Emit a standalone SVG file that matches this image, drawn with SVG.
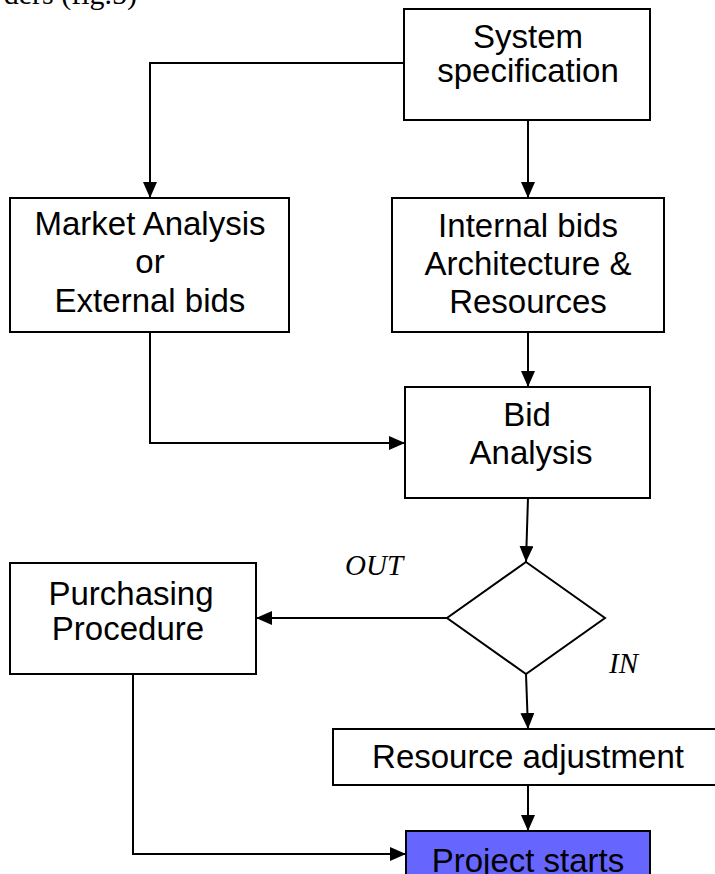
<svg xmlns="http://www.w3.org/2000/svg" width="715" height="874" viewBox="0 0 715 874">
<style>
.box{fill:#fff;stroke:#000;stroke-width:2}
.t{font-family:"Liberation Sans",Arial,sans-serif;font-size:33px;fill:#000;text-anchor:middle}
.lbl{font-family:"Liberation Serif","Times New Roman",serif;font-style:italic;font-size:29px;fill:#000}
.c{fill:none;stroke:#000;stroke-width:2}
</style>
<defs>
<marker id="arr" markerUnits="userSpaceOnUse" markerWidth="16" markerHeight="14" refX="16" refY="7" orient="auto">
<path d="M0,0 L16,7 L0,14 z" fill="#000"/>
</marker>
</defs>
<rect width="715" height="874" fill="#fff"/>
<text x="137" y="4" font-family="Liberation Serif, Times New Roman, serif" font-size="30" text-anchor="end">ders (fig.5)</text>

<g id="connectors">
<path class="c" d="M404,63 H150 V198" marker-end="url(#arr)"/>
<path class="c" d="M528,120 V198" marker-end="url(#arr)"/>
<path class="c" d="M528,332 V387" marker-end="url(#arr)"/>
<path class="c" d="M150,332 V443 H405" marker-end="url(#arr)"/>
<path class="c" d="M528,498 L526,562" marker-end="url(#arr)"/>
<path class="c" d="M447,618 H256" marker-end="url(#arr)"/>
<path class="c" d="M526,674 L528,729" marker-end="url(#arr)"/>
<path class="c" d="M528,785 V831" marker-end="url(#arr)"/>
<path class="c" d="M133,674 V854 H406" marker-end="url(#arr)"/>
</g>

<g id="spec">
<rect class="box" x="404" y="9" width="246" height="111"/>
<text class="t" x="528" y="48">System</text>
<text class="t" x="528" y="82">specification</text>
</g>

<g id="market">
<rect class="box" x="10" y="198" width="279" height="134"/>
<text class="t" x="150" y="235">Market Analysis</text>
<text class="t" x="150" y="273">or</text>
<text class="t" x="150" y="312">External bids</text>
</g>

<g id="internal">
<rect class="box" x="392" y="198" width="272" height="134"/>
<text class="t" x="528" y="237">Internal bids</text>
<text class="t" x="528" y="275">Architecture &amp;</text>
<text class="t" x="528" y="313">Resources</text>
</g>

<g id="bid">
<rect class="box" x="405" y="387" width="245" height="111"/>
<text class="t" x="527" y="426">Bid</text>
<text class="t" x="531" y="464">Analysis</text>
</g>

<g id="decision">
<polygon class="box" points="526,562 605,618 526,674 447,618"/>
<text class="lbl" x="345" y="575">OUT</text>
<text class="lbl" x="609" y="673">IN</text>
</g>

<g id="purchasing">
<rect class="box" x="10" y="563" width="246" height="111"/>
<text class="t" x="131" y="605">Purchasing</text>
<text class="t" x="128" y="640">Procedure</text>
</g>

<g id="resource">
<rect class="box" x="333" y="729" width="390" height="56"/>
<text class="t" x="528" y="768">Resource adjustment</text>
</g>

<g id="project">
<rect x="406" y="831" width="244" height="60" fill="#6666FF" stroke="#000" stroke-width="2"/>
<text class="t" x="528" y="872">Project starts</text>
</g>
</svg>
